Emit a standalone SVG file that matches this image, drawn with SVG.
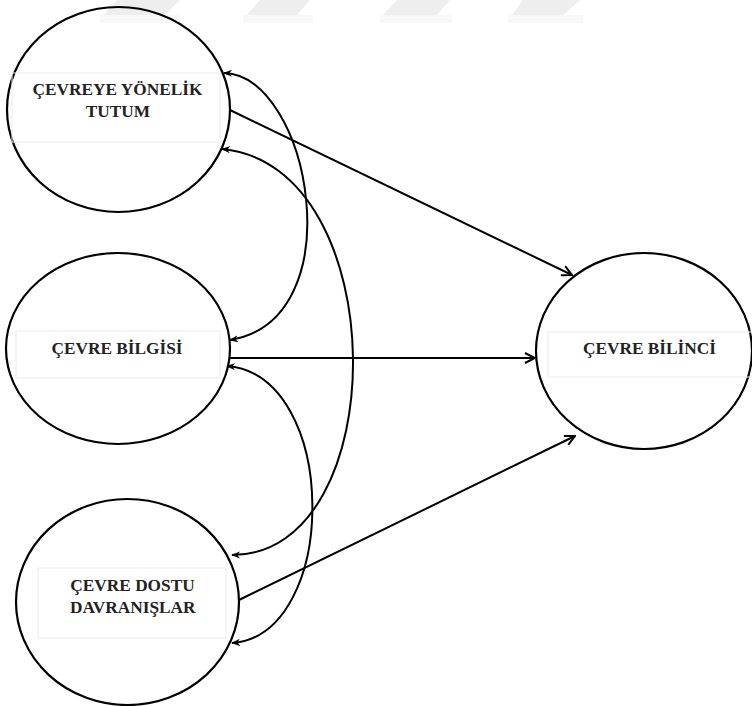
<svg xmlns="http://www.w3.org/2000/svg" width="752" height="706" viewBox="0 0 752 706">
<style>
.node{fill:none;stroke:#000;stroke-width:2.2}
.box{fill:none;stroke:#ececec;stroke-width:1}
.lbl{font-family:"Liberation Serif","Times New Roman",serif;font-weight:bold;font-size:17.3px;fill:#222;text-anchor:middle}
.conn{fill:none;stroke:#000;stroke-width:2}
.wm{fill:#eeeeee}
.wm2{fill:#f8f8f8}
</style>
<defs>
<marker id="open" viewBox="0 0 12 12" refX="11" refY="6" markerWidth="12" markerHeight="12" markerUnits="userSpaceOnUse" orient="auto">
<path d="M1,1 L11,6 L1,11" fill="none" stroke="#000" stroke-width="2"/>
</marker>
<marker id="fill" viewBox="0 0 10 10" refX="9" refY="5" markerWidth="9" markerHeight="9" markerUnits="userSpaceOnUse" orient="auto-start-reverse">
<path d="M0,1 L10,5 L0,9 L3,5 Z" fill="#000"/>
</marker>
</defs>
<g id="watermark">
<rect class="wm2" x="100" y="15" width="80" height="8"/>
<rect class="wm2" x="243" y="15" width="70" height="8"/>
<rect class="wm2" x="380" y="15" width="72" height="8"/>
<rect class="wm2" x="508" y="15" width="75" height="8"/>
<polygon class="wm" points="117,0 180,0 165,15 104,15"/>
<polygon class="wm" points="260,0 310,0 297,15 247,15"/>
<polygon class="wm" points="397,0 450,0 437,15 383,15"/>
<polygon class="wm" points="523,0 580,0 563,15 512,15"/>
</g>
<g id="node-tutum">
<ellipse class="node" cx="118.5" cy="109.5" rx="111.5" ry="102.5"/>
<rect class="box" x="12" y="73" width="208" height="69"/>
<text class="lbl" x="117.5" y="95">ÇEVREYE YÖNELİK</text>
<text class="lbl" x="118" y="117">TUTUM</text>
</g>
<g id="node-bilgi">
<ellipse class="node" cx="118" cy="348.5" rx="112" ry="95.5"/>
<rect class="box" x="16" y="331" width="204" height="47"/>
<text class="lbl" x="117" y="354">ÇEVRE BİLGİSİ</text>
</g>
<g id="node-davranis">
<ellipse class="node" cx="127.5" cy="602" rx="111.5" ry="103"/>
<rect class="box" x="38" y="568" width="188" height="70"/>
<text class="lbl" x="132.5" y="591">ÇEVRE DOSTU</text>
<text class="lbl" x="132.8" y="613">DAVRANIŞLAR</text>
</g>
<g id="node-bilinc">
<ellipse class="node" cx="644" cy="351" rx="108" ry="98"/>
<rect class="box" x="548" y="332" width="210" height="45"/>
<text class="lbl" x="649.5" y="354">ÇEVRE BİLİNCİ</text>
</g>
<g id="connectors">
<line class="conn" x1="230" y1="110" x2="572" y2="275" marker-end="url(#open)"/>
<line class="conn" x1="230" y1="358" x2="535" y2="358" marker-end="url(#open)"/>
<line class="conn" x1="239" y1="600" x2="575" y2="436" marker-end="url(#open)"/>
<path class="conn" d="M224,73 C310,75 355,320 230,340" marker-start="url(#fill)" marker-end="url(#fill)"/>
<path class="conn" d="M222,149 C395,165 395,555 232,555" marker-start="url(#fill)" marker-end="url(#fill)"/>
<path class="conn" d="M227,366 C340,375 340,635 232,643" marker-start="url(#fill)" marker-end="url(#fill)"/>
</g>
</svg>
